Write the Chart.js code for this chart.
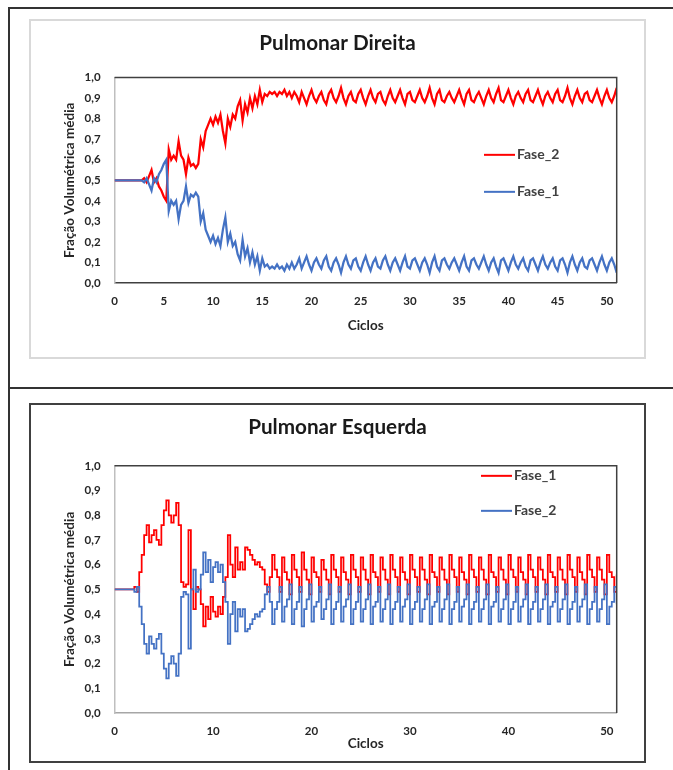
<!DOCTYPE html>
<html lang="pt">
<head>
<meta charset="UTF-8" />
<title>Pulmonar Direita / Esquerda</title>
<script src="https://cdn.jsdelivr.net/npm/chart.js"></script>
<style>
  html, body { margin: 0; padding: 0; background: #fff; }
  body { width: 673px; height: 770px; position: relative; overflow: hidden; font-family: Lato, sans-serif; }
  .tabela { position: absolute; left: 8px; top: 7px; width: 720px; height: 800px; border-left: 2px solid #333; border-top: 2px solid #333; }
  .divisor { position: absolute; left: 8px; top: 387px; width: 720px; border-top: 2px solid #333; }
  .quadro { position: absolute; left: 29px; width: 617px; box-sizing: border-box; border: 2px solid #d9d9d9; background: #fff; }
  #quadroD { top: 19px; height: 340px; }
  #quadroE { top: 403px; height: 360px; border-color: #404040; }
  canvas { display: block; }
</style>
</head>
<body>
  <div class="tabela"></div>
  <div class="divisor"></div>
  <div class="quadro" id="quadroD"><canvas id="graficoD" width="613" height="336"></canvas></div>
  <div class="quadro" id="quadroE"><canvas id="graficoE" width="613" height="356"></canvas></div>

<script>
// amostragem: 4 pontos por ciclo (0 a 51 ciclos)
const passo = 0.25;

// Pulmonar Direita
const fase2D = [
  0.50,0.50,0.50,0.50, 0.50,0.50,0.50,0.50, 0.50,0.50,0.50,0.50,
  0.51,0.49,0.52,0.55, 0.49,0.51,0.47,0.45, 0.42,0.40,0.65,0.60,
  0.62,0.60,0.69,0.62, 0.60,0.53,0.61,0.57, 0.58,0.56,0.58,0.70,
  0.66,0.74,0.77,0.80, 0.77,0.81,0.78,0.82, 0.74,0.68,0.80,0.76,
  0.82,0.80,0.86,0.89, 0.79,0.87,0.83,0.90, 0.85,0.91,0.87,0.94,
  0.88,0.92,0.91,0.93, 0.92,0.93,0.91,0.93, 0.92,0.94,0.91,0.93,
  0.90,0.93,0.91,0.88,
  0.93,0.90,0.87,0.91, 0.94,0.90,0.88,0.91, 0.93,0.89,0.87,0.92, 0.94,0.90,0.88,0.91,
  0.95,0.90,0.87,0.91, 0.93,0.89,0.88,0.92, 0.94,0.90,0.87,0.91, 0.94,0.90,0.88,0.92,
  0.93,0.89,0.87,0.91, 0.94,0.90,0.88,0.91, 0.94,0.90,0.87,0.92, 0.93,0.89,0.88,0.91,
  0.94,0.90,0.88,0.91, 0.95,0.90,0.87,0.92, 0.94,0.89,0.88,0.91, 0.93,0.90,0.88,0.91,
  0.94,0.90,0.87,0.92, 0.94,0.89,0.88,0.91, 0.93,0.90,0.87,0.91, 0.94,0.90,0.88,0.92,
  0.95,0.89,0.88,0.91, 0.94,0.90,0.87,0.91, 0.93,0.90,0.88,0.92, 0.94,0.89,0.88,0.91,
  0.94,0.90,0.87,0.91, 0.93,0.90,0.88,0.92, 0.94,0.89,0.88,0.91, 0.95,0.90,0.87,0.91,
  0.94,0.90,0.88,0.92, 0.93,0.89,0.88,0.91, 0.94,0.90,0.87,0.91, 0.94,0.90,0.88,0.91,
  0.95
];
const fase1D = [
  0.50,0.50,0.50,0.50, 0.50,0.50,0.50,0.50, 0.50,0.50,0.50,0.50,
  0.49,0.51,0.48,0.45, 0.51,0.49,0.53,0.55, 0.58,0.60,0.35,0.40,
  0.38,0.40,0.31,0.38, 0.40,0.47,0.39,0.43, 0.42,0.44,0.42,0.30,
  0.34,0.26,0.23,0.20, 0.23,0.19,0.22,0.18, 0.26,0.32,0.20,0.24,
  0.18,0.20,0.14,0.11, 0.21,0.13,0.17,0.10, 0.15,0.09,0.13,0.06,
  0.12,0.08,0.09,0.07, 0.08,0.07,0.09,0.07, 0.08,0.06,0.09,0.07,
  0.10,0.07,0.09,0.12,
  0.07,0.10,0.13,0.09, 0.06,0.10,0.12,0.09, 0.07,0.11,0.13,0.08, 0.06,0.10,0.12,0.09,
  0.05,0.10,0.13,0.09, 0.07,0.11,0.12,0.08, 0.06,0.10,0.13,0.09, 0.06,0.10,0.12,0.08,
  0.07,0.11,0.13,0.09, 0.06,0.10,0.12,0.09, 0.06,0.10,0.13,0.08, 0.07,0.11,0.12,0.09,
  0.06,0.10,0.12,0.09, 0.05,0.10,0.13,0.08, 0.06,0.11,0.12,0.09, 0.07,0.10,0.12,0.09,
  0.06,0.10,0.13,0.08, 0.06,0.11,0.12,0.09, 0.07,0.10,0.13,0.09, 0.06,0.10,0.12,0.08,
  0.05,0.11,0.12,0.09, 0.06,0.10,0.13,0.09, 0.07,0.10,0.12,0.08, 0.06,0.11,0.12,0.09,
  0.06,0.10,0.13,0.09, 0.07,0.10,0.12,0.08, 0.06,0.11,0.12,0.09, 0.05,0.10,0.13,0.09,
  0.06,0.10,0.12,0.08, 0.07,0.11,0.12,0.09, 0.06,0.10,0.13,0.09, 0.06,0.10,0.12,0.09,
  0.05
];

// Pulmonar Esquerda
const fase1E = [
  0.50,0.50,0.50,0.50, 0.50,0.50,0.50,0.50, 0.51,0.49,0.57,0.64,
  0.72,0.76,0.69,0.72, 0.74,0.70,0.68,0.76, 0.82,0.86,0.80,0.77,
  0.80,0.85,0.76,0.53, 0.51,0.52,0.74,0.50, 0.42,0.51,0.50,0.44,
  0.35,0.43,0.38,0.47, 0.41,0.39,0.43,0.40, 0.47,0.55,0.72,0.60,
  0.55,0.67,0.58,0.61, 0.58,0.67,0.66,0.64, 0.62,0.60,0.61,0.59,
  0.58,0.52,0.49,0.55,
  0.64,0.58,0.55,0.49, 0.63,0.57,0.54,0.48, 0.64,0.58,0.55,0.49, 0.65,0.58,0.54,0.48,
  0.63,0.57,0.55,0.49, 0.62,0.58,0.54,0.48, 0.64,0.58,0.55,0.49, 0.63,0.57,0.54,0.48,
  0.64,0.58,0.55,0.49, 0.63,0.58,0.54,0.48, 0.64,0.57,0.55,0.49, 0.63,0.58,0.54,0.48,
  0.64,0.58,0.55,0.49, 0.63,0.57,0.54,0.48, 0.64,0.58,0.55,0.49, 0.63,0.58,0.54,0.48,
  0.64,0.57,0.55,0.49, 0.63,0.58,0.54,0.48, 0.64,0.58,0.55,0.49, 0.63,0.57,0.54,0.48,
  0.64,0.58,0.55,0.49, 0.63,0.58,0.54,0.48, 0.64,0.57,0.55,0.49, 0.63,0.58,0.54,0.48,
  0.64,0.58,0.55,0.49, 0.63,0.57,0.54,0.48, 0.64,0.58,0.55,0.49, 0.63,0.58,0.54,0.48,
  0.64,0.57,0.55,0.49, 0.63,0.58,0.54,0.48, 0.64,0.58,0.55,0.49, 0.63,0.57,0.54,0.48,
  0.64,0.58,0.55,0.49, 0.63,0.58,0.54,0.48, 0.64,0.57,0.55,0.49,
  0.56
];
const fase2E = [
  0.50,0.50,0.50,0.50, 0.50,0.50,0.50,0.50, 0.49,0.51,0.43,0.36,
  0.28,0.24,0.31,0.28, 0.26,0.30,0.32,0.24, 0.18,0.14,0.20,0.23,
  0.20,0.15,0.24,0.47, 0.49,0.48,0.26,0.50, 0.58,0.49,0.50,0.56,
  0.65,0.57,0.62,0.53, 0.59,0.61,0.57,0.60, 0.53,0.45,0.28,0.40,
  0.45,0.33,0.42,0.39, 0.42,0.33,0.34,0.36, 0.38,0.40,0.39,0.41,
  0.42,0.48,0.51,0.45,
  0.36,0.42,0.45,0.51, 0.37,0.43,0.46,0.52, 0.36,0.42,0.45,0.51, 0.35,0.42,0.46,0.52,
  0.37,0.43,0.45,0.51, 0.38,0.42,0.46,0.52, 0.36,0.42,0.45,0.51, 0.37,0.43,0.46,0.52,
  0.36,0.42,0.45,0.51, 0.37,0.42,0.46,0.52, 0.36,0.43,0.45,0.51, 0.37,0.42,0.46,0.52,
  0.36,0.42,0.45,0.51, 0.37,0.43,0.46,0.52, 0.36,0.42,0.45,0.51, 0.37,0.42,0.46,0.52,
  0.36,0.43,0.45,0.51, 0.37,0.42,0.46,0.52, 0.36,0.42,0.45,0.51, 0.37,0.43,0.46,0.52,
  0.36,0.42,0.45,0.51, 0.37,0.42,0.46,0.52, 0.36,0.43,0.45,0.51, 0.37,0.42,0.46,0.52,
  0.36,0.42,0.45,0.51, 0.37,0.43,0.46,0.52, 0.36,0.42,0.45,0.51, 0.37,0.42,0.46,0.52,
  0.36,0.43,0.45,0.51, 0.37,0.42,0.46,0.52, 0.36,0.42,0.45,0.51, 0.37,0.43,0.46,0.52,
  0.36,0.42,0.45,0.51, 0.37,0.42,0.46,0.52, 0.36,0.43,0.45,0.51,
  0.44
];

const VERMELHO = '#ff0000';
const AZUL = '#4472c4';
const TEXTO = '#262626';

Chart.defaults.font.family = 'Lato, sans-serif';
Chart.defaults.font.weight = 'bold';
Chart.defaults.color = TEXTO;

const serie = valores => valores.map((v, i) => ({ x: i * passo, y: v }));

// legenda dentro da área do gráfico, como no Excel
const legendaInterna = {
  id: 'legendaInterna',
  afterDatasetsDraw(chart, args, opts) {
    const { ctx, chartArea } = chart;
    ctx.save();
    ctx.font = 'bold 14px Lato, sans-serif';
    ctx.textBaseline = 'middle';
    chart.data.datasets.forEach((ds, i) => {
      const x = chartArea.left + opts.left;
      const y = chartArea.top + opts.top + i * opts.gap;
      ctx.strokeStyle = ds.borderColor;
      ctx.lineWidth = 2;
      ctx.beginPath();
      ctx.moveTo(x, y);
      ctx.lineTo(x + 31, y);
      ctx.stroke();
      ctx.fillStyle = '#404040';
      ctx.fillText(ds.label, x + 33, y);
    });
    ctx.restore();
  }
};

// contorno superior e direito da área de plotagem
const contorno = {
  id: 'contorno',
  afterDatasetsDraw(chart) {
    const { ctx, chartArea: a } = chart;
    ctx.save();
    ctx.strokeStyle = '#404040';
    ctx.lineWidth = 1.5;
    ctx.beginPath();
    ctx.moveTo(a.left, a.top);
    ctx.lineTo(a.right, a.top);
    ctx.lineTo(a.right, a.bottom);
    ctx.stroke();
    ctx.restore();
  }
};

function opcoes(titulo, cfg) {
  return {
    responsive: false,
    animation: false,
    devicePixelRatio: 1,
    elements: { point: { radius: 0 }, line: { tension: 0 } },
    plugins: {
      legend: { display: false },
      tooltip: { enabled: false },
      title: {
        display: true,
        text: titulo,
        color: '#1a1a1a',
        font: { size: 20.7, weight: 'bold' },
        padding: { top: 10, bottom: cfg.tituloBaixo }
      },
      legendaInterna: cfg.legenda
    },
    scales: {
      x: {
        type: 'linear',
        min: 0,
        max: 51,
        grid: { display: false, drawTicks: false },
        border: { display: true, color: cfg.corEixoX, width: 1.5 },
        ticks: { stepSize: cfg.passoX, includeBounds: false, padding: 11, font: { size: 11.5 }, color: TEXTO },
        title: { display: true, text: 'Ciclos', font: { size: 13.5 }, color: TEXTO, padding: { top: 0, bottom: cfg.ciclosBaixo } },
        afterFit: s => { s.height = cfg.alturaX; }
      },
      y: {
        min: 0,
        max: 1,
        grid: { display: false, drawTicks: false },
        border: { display: true, color: '#bfbfbf', width: 1.5 },
        ticks: { stepSize: 0.1, padding: 14, font: { size: 11.5 }, color: TEXTO,
                 callback: v => v.toFixed(1).replace('.', ',') },
        title: { display: true, text: 'Fração Volumétrica média', font: { size: 13.5 }, color: TEXTO, padding: { top: 30.9, bottom: 0 } },
        afterFit: s => { s.width = 83.6; }
      },
      // margem direita vazia, para o título ficar centrado no quadro
      margem: {
        position: 'right',
        grid: { display: false, drawTicks: false },
        border: { display: false },
        ticks: { display: false },
        afterFit: s => { s.width = 27.3; }
      }
    }
  };
}

new Chart(document.getElementById('graficoD'), {
  type: 'line',
  data: {
    datasets: [
      { label: 'Fase_2', data: serie(fase2D), borderColor: VERMELHO, borderWidth: 2.25, order: 2 },
      { label: 'Fase_1', data: serie(fase1D), borderColor: AZUL, borderWidth: 2.25, order: 1 }
    ]
  },
  options: opcoes('Pulmonar Direita', {
    tituloBaixo: 21.7, alturaX: 74, ciclosBaixo: 22.9, passoX: 5, corEixoX: '#404040',
    legenda: { left: 369.4, top: 77.3, gap: 37 }
  }),
  plugins: [legendaInterna, contorno]
});

new Chart(document.getElementById('graficoE'), {
  type: 'line',
  data: {
    datasets: [
      { label: 'Fase_1', data: serie(fase1E), borderColor: VERMELHO, borderWidth: 1.75, stepped: true, order: 2 },
      { label: 'Fase_2', data: serie(fase2E), borderColor: AZUL, borderWidth: 1.75, stepped: true, order: 1 }
    ]
  },
  options: opcoes('Pulmonar Esquerda', {
    tituloBaixo: 26, alturaX: 48, ciclosBaixo: 8.9, passoX: 10, corEixoX: '#a6a6a6',
    legenda: { left: 366.4, top: 10, gap: 35 }
  }),
  plugins: [legendaInterna, contorno]
});
</script>
</body>
</html>
